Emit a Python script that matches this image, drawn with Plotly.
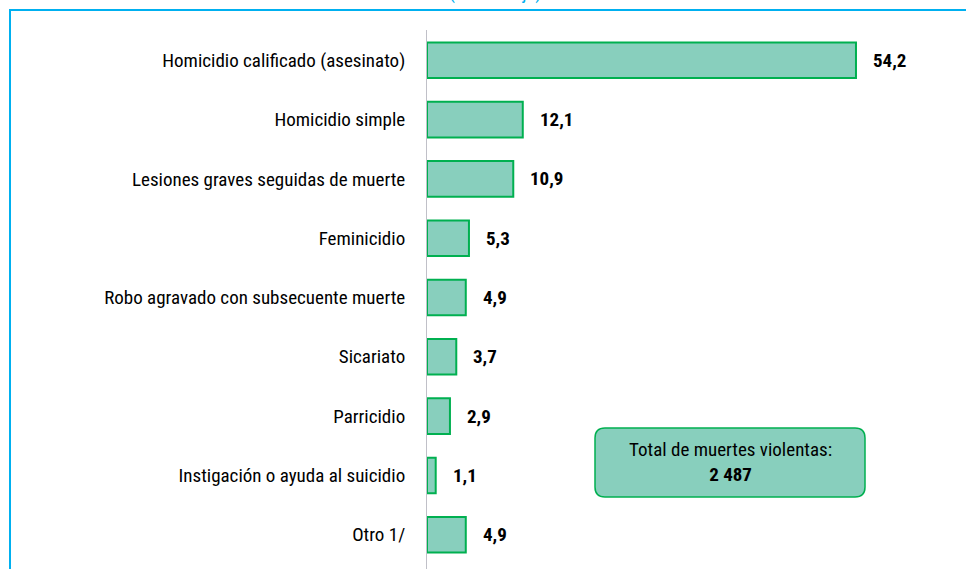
import plotly.graph_objects as go

categories = [
    "Homicidio calificado (asesinato)",
    "Homicidio simple",
    "Lesiones graves seguidas de muerte",
    "Feminicidio",
    "Robo agravado con subsecuente muerte",
    "Sicariato",
    "Parricidio",
    "Instigación o ayuda al suicidio",
    "Otro 1/",
]
values = [54.2, 12.1, 10.9, 5.3, 4.9, 3.7, 2.9, 1.1, 4.9]
value_labels = ["54,2", "12,1", "10,9", "5,3", "4,9", "3,7", "2,9", "1,1", "4,9"]
subtitle = "(Porcentaje)"
total_label = "Total de muertes violentas:"
total_value = "2 487"

W, H = 966, 569
ML, MR, MT, MB = 427, 0, 30, 0
PW, PH = W - ML - MR, H - MT - MB

FONT = "Liberation Sans Narrow, Arial Narrow, Roboto Condensed, Liberation Sans, sans-serif"
FS = 19
FILL = "#88CFBD"
EDGE = "#00B050"
BLUE = "#00B0F0"


def px(x):
    return (x - ML) / PW


def py(y):
    return (H - MB - y) / PH


fig = go.Figure()
fig.add_trace(go.Bar(
    x=values, y=categories, orientation="h",
    marker=dict(color=FILL, line=dict(color=EDGE, width=2)),
    hoverinfo="skip",
))

for cat, v, lab in zip(categories, values, value_labels):
    fig.add_annotation(x=v, y=cat, xref="x", yref="y", text="<b>" + lab + "</b>",
                       showarrow=False, xanchor="left", yanchor="middle", xshift=15,
                       font=dict(family=FONT, size=FS, color="#000000"))

# frame
fig.add_shape(type="rect", xref="paper", yref="paper",
              x0=px(10), x1=px(990), y0=py(600), y1=py(10),
              line=dict(color=BLUE, width=2), fillcolor="rgba(0,0,0,0)", layer="below")

# rounded total box
x0, x1, y0, y1, r = px(595), px(865), py(497), py(428), 10 / PW
path = (f"M {x0+r},{y1} L {x1-r},{y1} Q {x1},{y1} {x1},{y1-r} "
        f"L {x1},{y0+r} Q {x1},{y0} {x1-r},{y0} L {x0+r},{y0} "
        f"Q {x0},{y0} {x0},{y0+r} L {x0},{y1-r} Q {x0},{y1} {x0+r},{y1} Z")
fig.add_shape(type="path", xref="paper", yref="paper", path=path,
              fillcolor=FILL, line=dict(color=EDGE, width=1.5), layer="above")
fig.add_annotation(x=px(730), y=py(462), xref="paper", yref="paper",
                   text=total_label + "<br><b>" + total_value + "</b>",
                   showarrow=False, xanchor="center", yanchor="middle",
                   font=dict(family=FONT, size=FS, color="#000000"))

fig.add_annotation(x=px(495), y=py(6), xref="paper", yref="paper", text=subtitle,
                   showarrow=False, xanchor="center", yanchor="bottom",
                   font=dict(family=FONT, size=FS, color=BLUE))

fig.update_layout(
    width=W, height=H,
    margin=dict(l=ML, r=MR, t=MT, b=MB, pad=0),
    paper_bgcolor="white", plot_bgcolor="white",
    showlegend=False, bargap=0.4,
    font=dict(family=FONT, size=FS, color="#000000"),
)
fig.update_xaxes(range=[0, 68.1], visible=False, fixedrange=True)
fig.update_yaxes(type="category", range=[8.578, -0.511], showline=True, linecolor="#C0C0C8",
                 linewidth=1, showgrid=False, zeroline=False, ticks="",
                 ticklabelstandoff=17, tickfont=dict(family=FONT, size=FS, color="#000000"),
                 fixedrange=True)

fig.write_html("out.html", config={"displayModeBar": False},
               post_script="document.body.style.margin='0';document.body.style.padding='0';")
